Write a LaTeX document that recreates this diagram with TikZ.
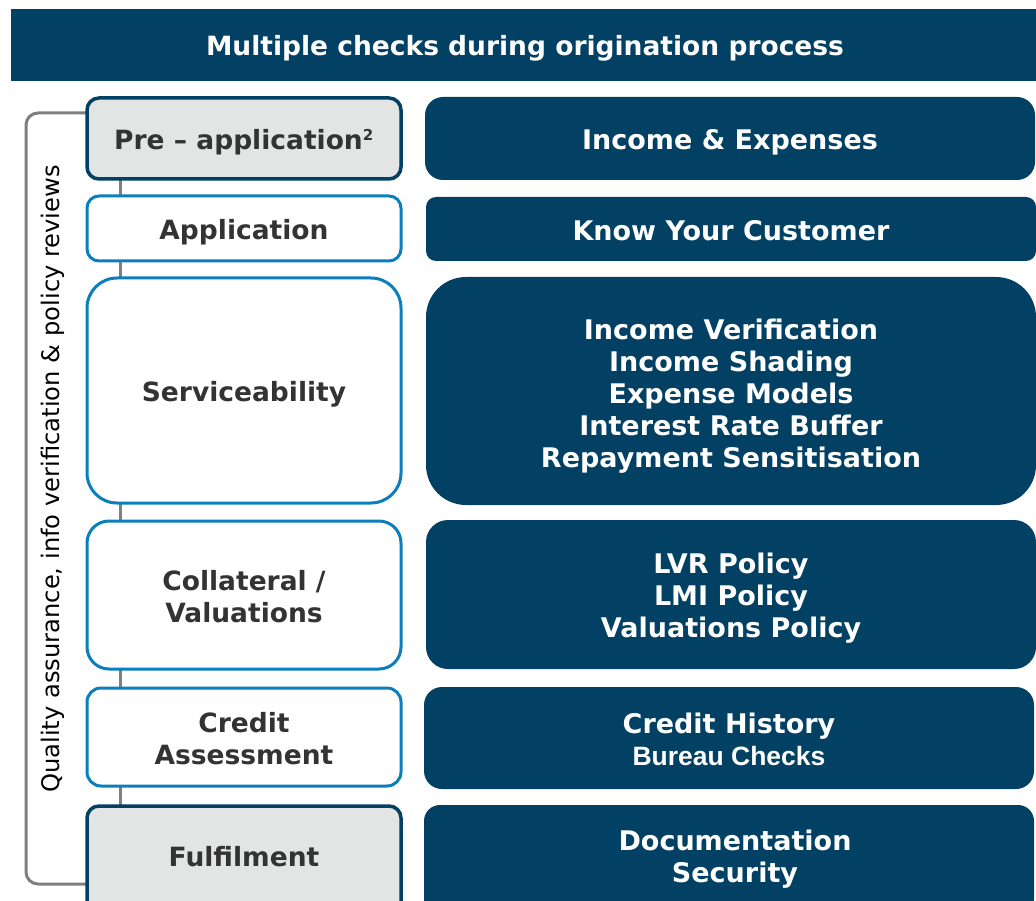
\documentclass[tikz,border=0pt]{standalone}
\usepackage{fontspec}
\setmainfont{DejaVu Sans}
\newfontfamily\narrowfont{Liberation Sans}
\usetikzlibrary{calc}
\definecolor{navy}{HTML}{024163}
\definecolor{lblue}{HTML}{0B7FBE}
\definecolor{lgray}{HTML}{E3E4E4}
\definecolor{lgrayline}{HTML}{7F7F7F}
\definecolor{txtdark}{HTML}{333333}
\newcommand\dn[2]{\raisebox{-#1pt}[\height][\depth]{#2}}
\tikzset{
  lbox/.style={draw=lblue, line width=3pt, fill=white, rounded corners=12pt,
    text=txtdark, font=\fontsize{26.5}{32}\selectfont\bfseries, align=center,
    minimum width=314pt, inner sep=0pt},
  gbox/.style={lbox, draw=navy, line width=3.5pt, fill=lgray},
  rbox/.style={fill=navy, rounded corners=18pt, text=white,
    font=\fontsize{27}{32}\selectfont\bfseries, align=center,
    minimum width=610pt, inner sep=0pt},
  conn/.style={draw=lgrayline, line width=3pt},
  bracket/.style={draw=lgrayline, line width=3pt, rounded corners=12pt},
}
\begin{document}
\begin{tikzpicture}[x=1pt,y=-1pt]
\useasboundingbox (0,0) rectangle (1036,901);
% title
\node[fill=navy, minimum width=1040pt, minimum height=72pt, inner sep=0pt, anchor=north west] (title) at (11,9) {};
\node[text=white, font=\fontsize{26.5}{30}\selectfont\bfseries] (titletxt) at (525,48) {Multiple checks during origination process};
% bracket and connectors (behind boxes)
\coordinate (bt) at (120,113);
\coordinate (bb) at (95,884);
\draw[bracket] (bt) -- (26,113) -- (26,884) -- (bb);
\draw[conn] (120,175) -- (120,810);
% left boxes
\node[gbox, minimum height=81pt] (pre) at (244,138.5) {\dn{5}{\strut Pre -- application\textsuperscript{\fontsize{15}{15}\selectfont 2}}};
\node[lbox, minimum height=65pt] (app) at (244,228.5) {\dn{5}{\strut Application}};
\node[lbox, minimum height=225pt, rounded corners=30pt] (serv) at (244,390.5) {\dn{5}{\strut Serviceability}};
\node[lbox, minimum height=148pt, rounded corners=22pt] (coll) at (244,595) {\dn{2}{Collateral /}\\\dn{2}{Valuations}};
\node[lbox, minimum height=98pt, rounded corners=14pt] (cred) at (244,737) {\dn{2}{Credit}\\\dn{2}{Assessment}};
\node[gbox, minimum height=110pt] (fulf) at (244,861) {};
\node[text=txtdark, font=\fontsize{26.5}{32}\selectfont\bfseries] (fulft) at (244,860) {\strut Fulfilment};
% right boxes
\node[rbox, minimum height=83pt] (r1) at (730,138.5) {\dn{5}{\strut Income \& Expenses}};
\node[rbox, minimum height=64pt, rounded corners=10pt] (r2) at (731,229) {\dn{5}{\strut Know Your Customer}};
\node[rbox, minimum height=228pt, rounded corners=40pt] (r3) at (731,391) {\dn{5}{Income Verification}\\\dn{5}{Income Shading}\\\dn{5}{Expense Models}\\\dn{5}{Interest Rate Buffer}\\\dn{5}{Repayment Sensitisation}};
\node[rbox, minimum height=149pt, rounded corners=22pt] (r4) at (731,594.5) {\dn{4}{LVR Policy}\\\dn{4}{LMI Policy}\\\dn{4}{Valuations Policy}};
\node[rbox, minimum height=102pt, rounded corners=18pt] (r5) at (729,738) {\dn{1}{Credit History}\\\dn{1}{\narrowfont\fontsize{26.5}{32}\selectfont Bureau Checks}};
\node[rbox, minimum height=110pt, rounded corners=16pt] (r6) at (729,860) {};
\node[text=white, font=\fontsize{27}{32}\selectfont\bfseries, align=center] (r6t) at (735,859) {Documentation\\Security};
% side label
\node[rotate=90, font=\fontsize{24.2}{28}\selectfont, text=black] (side) at (53,479) {Quality assurance, info verification \& policy reviews};
\end{tikzpicture}
\end{document}
